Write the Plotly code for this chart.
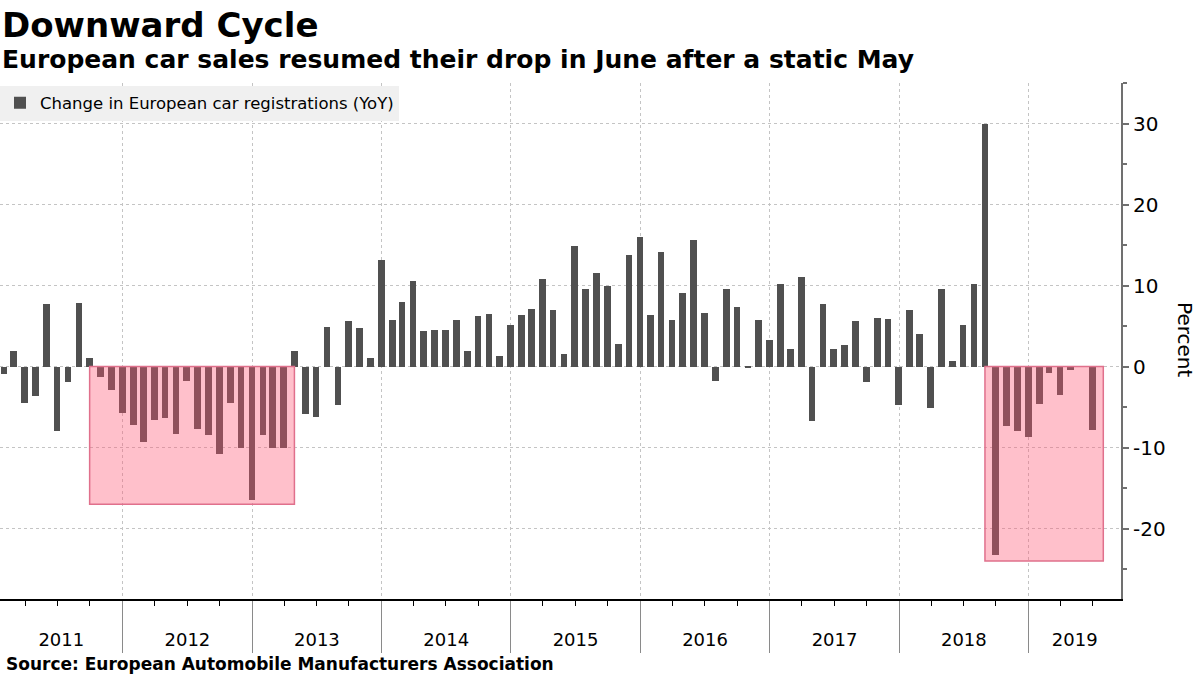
import pandas as pd
import plotly.graph_objects as go

# ---------------- data ----------------
start_month = "2011-01"
end_month = "2019-06"

yoy_2011 = [-0.9, 1.9, -4.55, -3.7, 7.7, -8.0, -1.9, 7.8, 1.0, -1.25, -2.9, -5.7]
yoy_2012 = [-7.2, -9.3, -6.55, -6.3, -8.3, -1.75, -7.7, -8.4, -10.75, -4.45, -10.0, -16.45]
yoy_2013 = [-8.4, -10.1, -10.1, 1.9, -5.8, -6.2, 4.9, -4.8, 5.6, 4.7, 1.0, 13.1]
yoy_2014 = [5.7, 8.0, 10.5, 4.4, 4.5, 4.5, 5.7, 1.9, 6.2, 6.5, 1.3, 5.1]
yoy_2015 = [6.35, 7.1, 10.8, 7.0, 1.5, 14.9, 9.55, 11.5, 9.9, 2.8, 13.75, 16.0]
yoy_2016 = [6.35, 14.1, 5.7, 9.05, 15.6, 6.6, -1.75, 9.55, 7.3, -0.15, 5.7, 3.3]
yoy_2017 = [10.2, 2.2, 11.0, -6.7, 7.7, 2.2, 2.65, 5.6, -1.9, 6.0, 5.85, -4.7]
yoy_2018 = [7.0, 4.0, -5.1, 9.6, 0.7, 5.1, 10.2, 29.9, -23.3, -7.3, -7.9, -8.65]
yoy_2019 = [-4.6, -0.8, -3.5, -0.4, -0.05, -7.8]

yoy = (yoy_2011 + yoy_2012 + yoy_2013 + yoy_2014 + yoy_2015 +
       yoy_2016 + yoy_2017 + yoy_2018 + yoy_2019)

years = [2011, 2012, 2013, 2014, 2015, 2016, 2017, 2018, 2019]
year_labels = [str(y) for y in years]

y_tickvals = [-20, -10, 0, 10, 20, 30]
y_ticktext = ["-20", "-10", "0", "10", "20", "30"]

# highlighted periods (first / last month covered, lower bound in %)
hl_start = ["2011-09", "2018-08"]
hl_end = ["2013-04", "2019-07"]
hl_floor = [-17, -24]

# ---------------- build ----------------
def month_end(p):
    return pd.Period(p, freq="M").to_timestamp(how="end").normalize()

months = pd.period_range(start_month, end_month, freq="M").to_timestamp(how="end").normalize()

x_range = [pd.Timestamp("2011-01-20"), pd.Timestamp("2019-09-19")]

year_starts = [pd.Timestamp(f"{y}-01-01") for y in years]
sep_vals = [t for t in year_starts if x_range[0] < t < x_range[1]]
label_pos = []
for y in years:
    a = max(pd.Timestamp(f"{y}-01-01"), x_range[0])
    b = min(pd.Timestamp(f"{y + 1}-01-01"), x_range[1])
    label_pos.append(a + (b - a) / 2)

BAR = "#505050"
GRID = "#c4c4c4"
FONT = "DejaVu Sans"
bar_width_ms = 19 * 24 * 3600 * 1000

fig = go.Figure()
fig.add_trace(go.Bar(
    x=months, y=yoy, name="Change in European car registrations (YoY)",
    marker=dict(color=BAR, line=dict(width=0)), width=bar_width_ms,
    xaxis="x", yaxis="y", showlegend=True,
))
# empty trace only so that the year-label axis (x2) is drawn
fig.add_trace(go.Scatter(x=[], y=[], xaxis="x2", yaxis="y",
                         showlegend=False, hoverinfo="skip"))

shapes = []
for s, e, f in zip(hl_start, hl_end, hl_floor):
    shapes.append(dict(
        type="rect", xref="x", yref="y",
        x0=month_end(s), x1=month_end(e), y0=0, y1=f,
        fillcolor="rgba(255,85,115,0.37)",
        line=dict(color="#e0708c", width=1.5), layer="above",
    ))

annotations = [
    dict(text="<b>Downward Cycle</b>", xref="paper", yref="paper", x=0, y=1.113,
         xanchor="left", yanchor="middle", showarrow=False,
         font=dict(family=FONT, size=34, color="#000")),
    dict(text="<b>European car sales resumed their drop in June after a static May</b>",
         xref="paper", yref="paper", x=0, y=1.045, xanchor="left", yanchor="middle",
         showarrow=False, font=dict(family=FONT, size=25, color="#000")),
    dict(text="<b>Source: European Automobile Manufacturers Association</b>",
         xref="paper", yref="paper", x=0.004, y=-0.125, xanchor="left", yanchor="middle",
         showarrow=False, font=dict(family=FONT, size=17, color="#000")),
    dict(text="Percent", xref="paper", yref="paper", x=1.057, y=0.502,
         xanchor="center", yanchor="middle", textangle=90, showarrow=False,
         font=dict(family=FONT, size=20, color="#000")),
]

fig.update_layout(
    width=1200, height=675,
    margin=dict(l=0, r=79, t=83, b=76),
    paper_bgcolor="white", plot_bgcolor="white",
    font=dict(family=FONT, color="#000"),
    bargap=0,
    shapes=shapes, annotations=annotations,
    legend=dict(x=0, y=0.995, xanchor="left", yanchor="top", bgcolor="#f0f0f0",
                font=dict(family=FONT, size=16.5, color="#000"),
                borderwidth=0, itemwidth=30),
    xaxis=dict(
        type="date", range=x_range, tickmode="array", tickvals=sep_vals,
        ticks="outside", ticklen=52, tickcolor="#8a8a8a", tickwidth=1,
        showticklabels=False, showgrid=True, gridcolor=GRID, griddash="dot",
        gridwidth=1, showline=True, linecolor="#000", linewidth=1.5,
        zeroline=False,
        minor=dict(ticks="outside", ticklen=5, tickcolor="#000", tickwidth=1,
                   dtick="M3", tick0="2011-01-01", showgrid=False),
    ),
    xaxis2=dict(
        type="date", range=x_range, overlaying="x", anchor="y", side="bottom",
        tickmode="array", tickvals=label_pos, ticktext=year_labels,
        ticks="outside", ticklen=24, tickcolor="rgba(0,0,0,0)",
        showgrid=False, showline=False, zeroline=False,
        tickfont=dict(family=FONT, size=18, color="#000"),
    ),
    yaxis=dict(
        side="right", range=[-28.7, 35], tickmode="array",
        tickvals=y_tickvals, ticktext=y_ticktext,
        ticks="outside", ticklen=6, tickcolor="#707070", tickwidth=2,
        showgrid=True, gridcolor=GRID, griddash="dot", gridwidth=1,
        showline=True, linecolor="#707070", linewidth=2, zeroline=False,
        tickfont=dict(family=FONT, size=20, color="#000"),
        minor=dict(tickmode="linear", tick0=0, dtick=5, ticks="outside",
                   ticklen=4, tickcolor="#707070", showgrid=False),
    ),
)

fig.write_html("out.html")
